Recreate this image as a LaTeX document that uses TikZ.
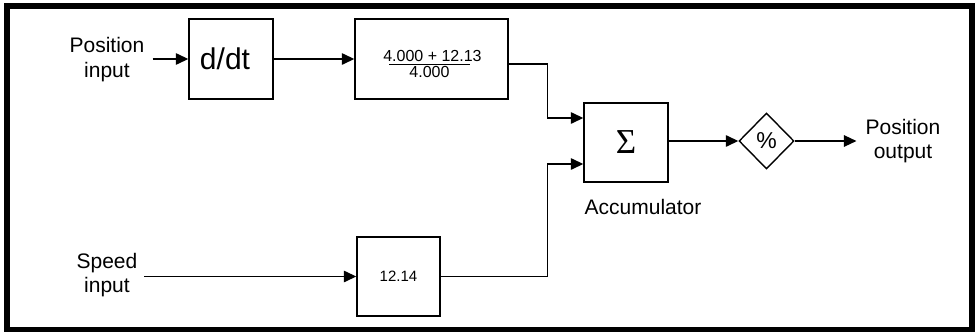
\documentclass[tikz,border=0pt]{standalone}
\usepackage{fontspec}
\setmainfont{Liberation Sans}
\newfontfamily\sigmafont{Liberation Serif}
\usetikzlibrary{arrows.meta,shapes.geometric}
\begin{document}
\begin{tikzpicture}[x=1pt,y=-1pt,line width=1.4pt,
  arr/.style={-{Triangle[length=12.5pt,width=11.5pt]}},
  blk/.style n args={2}{draw,minimum width=#1,minimum height=#2,inner sep=0pt},
  lbl/.style={align=center,inner sep=0pt,font=\fontsize{21}{24.5}\selectfont}]
\useasboundingbox (0,0) rectangle (975,332);
\draw[line width=6pt] (7,6) rectangle (971.5,329.5);
% labels
\node[lbl] (pin) at (107,59.5) {Position\\input};
\node[lbl] (sin) at (107,275) {Speed\\input};
\node[lbl] (pout) at (903,141) {Position\\output};
\node[lbl] (acc) at (643,207) {Accumulator};
% blocks
\node[blk={84}{80}] (ddt) at (231,59) {};
\node[inner sep=0pt,font=\fontsize{30}{30}\selectfont] (ddtt) at (225,59) {d/dt};
\node[blk={153}{80}] (frac) at (431.5,59) {};
\node[inner sep=0pt,anchor=base,font=\fontsize{16}{16}\selectfont] (num) at (432.5,61) {4.000 + 12.13};
\node[inner sep=0pt,anchor=base,font=\fontsize{16}{16}\selectfont] (den) at (429.5,77.5) {4.000};
\draw[line width=1.2pt] (389,64.5) -- (470,64.5);
\node[blk={84}{79},font=\sigmafont\fontsize{35}{35}\selectfont] (sum) at (626,142.5) {Σ};
\node[blk={83}{79},font=\fontsize{15}{15}\selectfont] (gain) at (398.5,276.5) {12.14};
\node[draw,diamond,minimum width=55,minimum height=56,inner sep=0pt,font=\fontsize{23}{23}\selectfont] (dia) at (766.5,141) {\%};
% connectors
\draw[arr] ([xshift=7.5pt]pin.east |- ddt.west) -- (ddt.west);
\draw[arr] (ddt.east) -- (frac.west);
\draw[arr] ([yshift=-5pt]frac.east) -- ++(39,0) |- ([yshift=24.5pt]sum.west);
\draw[arr] (gain.east) -- ++(107,0) |- ([yshift=-21.5pt]sum.west);
\draw[arr] (sum.east |- dia.west) -- (dia.west);
\draw[arr] (dia.east) -- ([xshift=-8.5pt]pout.west);
\draw[arr] ([xshift=6pt]sin.east |- gain.west) -- (gain.west);
\end{tikzpicture}
\end{document}
